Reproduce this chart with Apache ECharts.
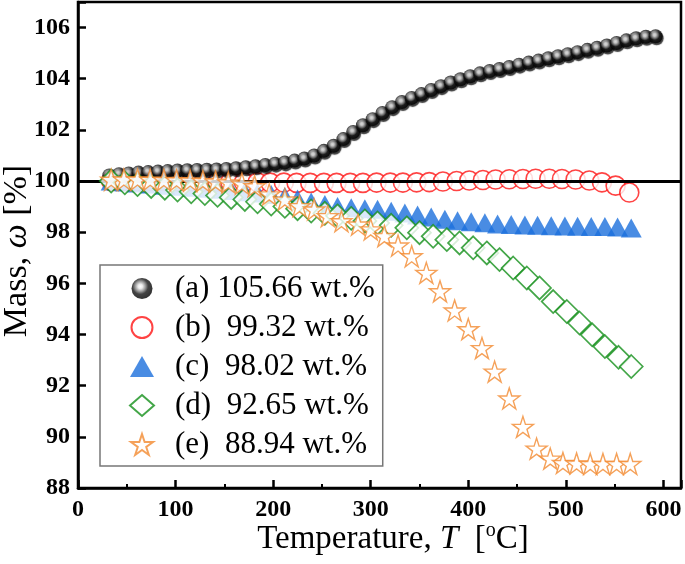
<!DOCTYPE html>
<html>
<head>
<meta charset="utf-8">
<script src="https://cdn.jsdelivr.net/npm/echarts@6/dist/echarts.min.js"></script>
<style>
html,body{margin:0;padding:0;background:#fff;}
#chart{width:685px;height:564px;}
</style>
</head>
<body>
<div id="chart"></div>
<script>
// ---- data ----
const legendNames = ['(a) 105.66 wt.%', '(b)  99.32 wt.%', '(c)  98.02 wt.%', '(d)  92.65 wt.%', '(e)  88.94 wt.%'];

const tempA = [32,42,52,62,72,82,92,102,112,122,132,142,152,162,172,182,192,202,212,222,232,242,252,262,272,282,292,302,312,322,332,342,352,362,372,382,392,402,412,422,432,442,452,462,472,482,492,502,512,522,532,542,552,562,572,582,592];
const massA = [100.22,100.27,100.30,100.33,100.35,100.37,100.39,100.41,100.42,100.43,100.44,100.45,100.47,100.50,100.54,100.58,100.63,100.68,100.73,100.80,100.88,101.00,101.18,101.38,101.64,101.92,102.18,102.42,102.66,102.89,103.09,103.25,103.40,103.56,103.71,103.85,103.98,104.10,104.21,104.30,104.38,104.46,104.55,104.63,104.71,104.80,104.88,104.96,105.04,105.13,105.21,105.30,105.40,105.50,105.58,105.64,105.66];

const tempB = [34,48,61,75,88,102,116,129,143,156,170,184,197,211,224,238,252,265,279,292,306,320,333,347,360,374,388,401,415,428,442,456,469,483,496,510,524,537,551,565];
const massB = [100.00,100.00,100.00,100.00,100.00,99.99,99.99,99.98,99.97,99.96,99.95,99.95,99.94,99.94,99.93,99.93,99.93,99.93,99.93,99.93,99.94,99.94,99.94,99.95,99.96,99.98,100.00,100.02,100.04,100.06,100.07,100.08,100.09,100.09,100.08,100.06,100.02,99.95,99.82,99.55];

const tempC = [34,48,61,75,89,102,116,130,143,157,171,184,198,212,225,239,253,266,280,294,307,321,335,348,362,376,389,403,417,430,444,458,471,485,499,512,526,540,553,567];
const massC = [100.00,99.96,99.92,99.88,99.84,99.80,99.76,99.72,99.68,99.63,99.58,99.53,99.47,99.40,99.30,99.18,99.08,99.01,98.96,98.92,98.90,98.82,98.75,98.67,98.59,98.51,98.45,98.41,98.37,98.32,98.30,98.28,98.27,98.25,98.24,98.23,98.22,98.22,98.20,98.16];

const tempD = [34,48,61,75,89,102,116,130,143,157,171,184,198,212,225,239,253,266,280,294,307,321,337,350,364,378,391,405,419,432,446,460,473,487,501,514,527,540,554,567];
const massD = [100.00,99.93,99.86,99.79,99.72,99.65,99.58,99.51,99.44,99.36,99.28,99.19,99.10,99.01,98.92,98.83,98.74,98.64,98.54,98.44,98.36,98.27,98.17,97.98,97.84,97.71,97.58,97.39,97.19,96.93,96.60,96.21,95.82,95.29,94.90,94.45,93.99,93.53,93.11,92.75];

const tempE = [34,47,61,74,88,101,115,128,141,154,168,181,196,212,227,242,256,270,287,300,314,328,342,357,371,386,400,414,427,442,456,470,484,497,511,525,538,552,566];
const massE = [100.05,100.06,100.06,100.05,100.04,100.03,100.02,100.00,99.98,99.95,99.90,99.80,99.48,99.28,99.02,98.89,98.63,98.43,98.30,98.11,97.85,97.48,97.06,96.41,95.69,94.94,94.21,93.47,92.55,91.50,90.39,89.54,89.15,88.98,88.96,88.94,88.94,88.94,88.94];

const xTicks = [0,100,200,300,400,500,600];
const yTicks = [88,90,92,94,96,98,100,102,104,106];
const refLine = 100;

// ---- chart ----
const serif = "'Liberation Serif','Times New Roman',serif";
const pair = (t, v) => t.map((x, i) => [x, v[i]]);
const starPath = 'path://M50,2 L61.2,36.2 L97,36.2 L68,57.3 L79.1,91.5 L50,70.3 L20.9,91.5 L32,57.3 L3,36.2 L38.8,36.2 Z';

const chart = echarts.init(document.getElementById('chart'), null, {renderer: 'canvas'});
const option = {
  backgroundColor: '#fff',
  animation: false,
  grid: {left: 78, right: 4, top: 2, bottom: 76, show: true, borderColor: '#000', borderWidth: 2.5,
    backgroundColor: 'transparent', containLabel: false, outerBoundsMode: 'none'},
  legend: {
    data: legendNames,
    orient: 'vertical',
    left: 100, top: 265,
    backgroundColor: '#fff',
    borderColor: '#777', borderWidth: 1.5,
    padding: [8, 8, 6, 29],
    itemWidth: 24, itemHeight: 21,
    itemGap: 8,
    textStyle: {fontFamily: serif, fontSize: 31, color: '#000', lineHeight: 31, padding: [0, 0, 0, 16]}
  },
  xAxis: {
    type: 'value', min: 0, max: 618, interval: 100,
    name: 'Temperature, {i|T}  [{sup|o}C]',
    nameLocation: 'middle', nameGap: 33, nameMoveOverlap: false,
    nameTextStyle: {fontFamily: serif, fontSize: 33, color: '#000', padding: [0, 0, 0, 27], lineHeight: 36,
      rich: {i: {fontFamily: serif, fontSize: 33, fontStyle: 'italic', color: '#000'},
             sup: {fontFamily: serif, fontSize: 20, color: '#000', verticalAlign: 'top', lineHeight: 20}}},
    axisLine: {lineStyle: {color: '#000', width: 2.5}},
    axisTick: {inside: true, length: 8, lineStyle: {width: 2.5, color: '#000'}},
    minorTick: {show: true, splitNumber: 2, length: 4, lineStyle: {width: 2, color: '#000'}},
    axisLabel: {margin: 10, fontFamily: serif, fontSize: 24, fontWeight: 'bold', color: '#000',
      formatter: v => xTicks.indexOf(v) >= 0 ? String(v) : ''},
    splitLine: {show: false}
  },
  yAxis: {
    type: 'value', min: 88, max: 107, interval: 2,
    name: 'Mass, {i|ω} [%]',
    nameLocation: 'middle', nameGap: 44, nameRotate: 90, nameMoveOverlap: false,
    nameTextStyle: {fontFamily: serif, fontSize: 34, color: '#000', lineHeight: 34, padding: [0, 12, 0, 0],
      rich: {i: {fontFamily: serif, fontSize: 34, fontStyle: 'italic', color: '#000', lineHeight: 34}}},
    axisLine: {lineStyle: {color: '#000', width: 2.5}},
    axisTick: {inside: true, length: 8, lineStyle: {width: 2.5, color: '#000'}},
    axisLabel: {margin: 8, fontFamily: serif, fontSize: 24, fontWeight: 'bold', color: '#000',
      formatter: v => yTicks.indexOf(v) >= 0 ? String(v) : ''},
    splitLine: {show: false}
  },
  series: [
    {
      type: 'line', data: [], silent: true, z: 1,
      markLine: {silent: true, symbol: 'none', label: {show: false}, animation: false,
        lineStyle: {color: '#000', width: 3, type: 'solid'}, data: [{yAxis: refLine}]}
    },
    {
      name: legendNames[1], type: 'scatter', z: 2, symbol: 'circle', symbolSize: 19,
      data: pair(tempB, massB),
      itemStyle: {color: '#fff', borderColor: '#ff1414', borderWidth: 1.6}
    },
    {
      name: legendNames[0], type: 'scatter', z: 3, symbol: 'circle', symbolSize: 14,
      data: pair(tempA, massA),
      itemStyle: {
        color: {type: 'radial', x: 0.42, y: 0.4, r: 0.6, colorStops: [
          {offset: 0, color: '#ffffff'}, {offset: 0.18, color: '#e6e6e6'}, {offset: 0.42, color: '#7a7a7a'},
          {offset: 0.62, color: '#151515'}, {offset: 1, color: '#000'}]},
        shadowColor: 'rgba(0,0,0,0.95)', shadowBlur: 1, shadowOffsetX: 1, shadowOffsetY: 2
      }
    },
    {
      name: legendNames[2], type: 'scatter', z: 4, symbol: 'triangle', symbolSize: [21, 19],
      data: pair(tempC, massC),
      itemStyle: {color: '#1c6fdc'}
    },
    {
      name: legendNames[3], type: 'scatter', z: 5, symbol: 'diamond', symbolSize: 23,
      data: pair(tempD, massD),
      itemStyle: {color: '#fff', borderColor: '#14901a', borderWidth: 1.7}
    },
    {
      name: legendNames[4], type: 'scatter', z: 6, symbol: starPath, symbolSize: 21,
      data: pair(tempE, massE),
      itemStyle: {color: '#fff', borderColor: '#f28a30', borderWidth: 1.4}
    }
  ]
};
chart.setOption(option);
</script>
</body>
</html>
